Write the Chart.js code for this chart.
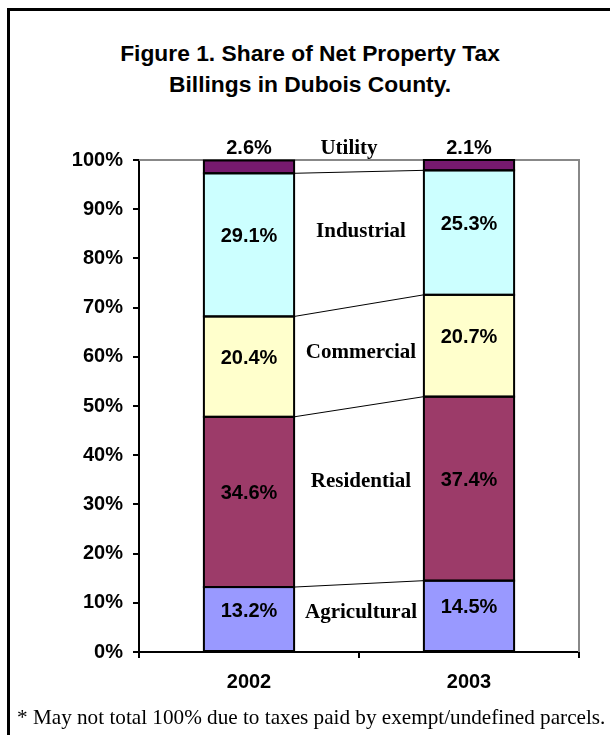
<!DOCTYPE html>
<html>
<head>
<meta charset="utf-8">
<script src="https://cdn.jsdelivr.net/npm/chart.js@4.4.1/dist/chart.umd.min.js"></script>
<style>
  html, body { margin: 0; padding: 0; background: #fff; overflow: hidden; }
  #wrap { position: relative; width: 610px; height: 735px; }
  #frame { position: absolute; left: 7px; top: 8px; width: 640px; height: 760px; border: 3px solid #000; }
  #title { position: absolute; left: 0; width: 620px; top: 38px; text-align: center;
    font: bold 22.8px "Liberation Sans", Arial, sans-serif; line-height: 31px; color: #000; }
  #note { position: absolute; left: 17px; top: 705px; white-space: nowrap; line-height: 26px;
    font: 21.2px "Liberation Serif", "Times New Roman", serif; color: #000; }
  canvas { position: absolute; left: 0; top: 0; }
</style>
</head>
<body>
<div id="wrap">
  <div id="frame"></div>
  <div id="title">Figure 1. Share of Net Property Tax<br>Billings in Dubois County.</div>
  <canvas id="taxChart" width="610" height="735"></canvas>
  <div id="note">* May not total 100% due to taxes paid by exempt/undefined parcels.</div>
</div>
<script>
// 데이터
const years = ['2002', '2003'];
const seriesNames = ['Agricultural', 'Residential', 'Commercial', 'Industrial', 'Utility'];
const agricultural = [13.2, 14.5];
const residential = [34.6, 37.4];
const commercial = [20.4, 20.7];
const industrial = [29.1, 25.3];
const utility = [2.6, 2.1];
const yTicks = [0, 10, 20, 30, 40, 50, 60, 70, 80, 90, 100];

const seriesValues = [agricultural, residential, commercial, industrial, utility];
const seriesColors = ['#9999ff', '#9c3b69', '#ffffcc', '#ccffff', '#761a6e'];

// 시리즈 이름 위치 (y 값, 막대 사이)
const nameY = [8.1, 34.6, 60.8, 85.4, 102.4];

const SANS = '"Liberation Sans", Arial, sans-serif';
const SERIF = '"Liberation Serif", "Times New Roman", serif';

// 회색 테두리 (위, 오른쪽)
const plotFrame = {
  id: 'plotFrame',
  beforeDatasetsDraw(chart) {
    const { ctx, chartArea: a } = chart;
    ctx.save();
    ctx.strokeStyle = '#888';
    ctx.lineWidth = 2;
    ctx.beginPath();
    ctx.moveTo(a.left, a.top);
    ctx.lineTo(a.right, a.top);
    ctx.lineTo(a.right, a.bottom);
    ctx.stroke();
    ctx.restore();
  },
};

// 막대 테두리, 연결선, 라벨
const seriesLines = {
  id: 'seriesLines',
  afterDatasetsDraw(chart) {
    const { ctx } = chart;
    const y = chart.scales.y;
    ctx.save();

    // 막대 테두리
    ctx.strokeStyle = '#000';
    ctx.lineWidth = 2;
    seriesValues.forEach((vals, i) => {
      chart.getDatasetMeta(i).data.forEach((bar) => {
        ctx.strokeRect(bar.x - bar.width / 2, bar.y, bar.width, bar.base - bar.y);
      });
    });

    // 연결선
    ctx.lineWidth = 1;
    for (let i = 0; i < seriesValues.length - 1; i++) {
      const b0 = chart.getDatasetMeta(i).data[0];
      const b1 = chart.getDatasetMeta(i).data[1];
      ctx.beginPath();
      ctx.moveTo(b0.x + b0.width / 2, b0.y);
      ctx.lineTo(b1.x - b1.width / 2, b1.y);
      ctx.stroke();
    }

    // 값 라벨
    ctx.fillStyle = '#000';
    ctx.textAlign = 'center';
    ctx.textBaseline = 'middle';
    ctx.font = 'bold 20px ' + SANS;
    seriesValues.forEach((vals, i) => {
      chart.getDatasetMeta(i).data.forEach((bar, j) => {
        const ty = i === seriesValues.length - 1 ? bar.y - 12 : (bar.y + bar.base) / 2 - 8;
        ctx.fillText(vals[j].toFixed(1) + '%', bar.x, ty);
      });
    });

    // 시리즈 이름
    const b0 = chart.getDatasetMeta(0).data[0];
    const b1 = chart.getDatasetMeta(0).data[1];
    const midX = (b0.x + b0.width / 2 + b1.x - b1.width / 2) / 2;
    ctx.font = 'bold 21px ' + SERIF;
    seriesNames.forEach((name, i) => {
      const dx = i === seriesNames.length - 1 ? -10 : 2;
      ctx.fillText(name, midX + dx, y.getPixelForValue(nameY[i]));
    });
    ctx.restore();
  },
};

const ctx = document.getElementById('taxChart').getContext('2d');
new Chart(ctx, {
  type: 'bar',
  data: {
    labels: years,
    datasets: seriesNames.map((name, i) => ({
      label: name,
      data: seriesValues[i],
      backgroundColor: seriesColors[i],
      borderWidth: 0,
      barPercentage: 0.41,
      categoryPercentage: 1,
    })),
  },
  options: {
    responsive: false,
    animation: false,
    layout: { padding: { left: 0, top: 160, right: 31, bottom: 0 } },
    plugins: {
      legend: { display: false },
      tooltip: { enabled: false },
    },
    scales: {
      x: {
        stacked: true,
        grid: { offset: true, drawOnChartArea: false, drawTicks: true, tickLength: 6, color: '#000', lineWidth: 2 },
        border: { color: '#000', width: 2 },
        ticks: { color: '#000', padding: 12, font: { family: SANS, size: 20, weight: 'bold' } },
        afterFit: (s) => { s.height = 83; },
      },
      y: {
        stacked: true,
        min: 0,
        max: 100,
        afterBuildTicks: (s) => { s.ticks = yTicks.map((v) => ({ value: v })); },
        grid: { drawOnChartArea: false, drawTicks: true, tickLength: 6, color: '#000', lineWidth: 2 },
        border: { color: '#000', width: 2 },
        ticks: {
          color: '#000',
          padding: 10,
          font: { family: SANS, size: 20, weight: 'bold' },
          callback: (v) => v + '%',
        },
        afterFit: (s) => { s.width = 139; },
      },
    },
  },
  plugins: [plotFrame, seriesLines],
});
</script>
</body>
</html>
